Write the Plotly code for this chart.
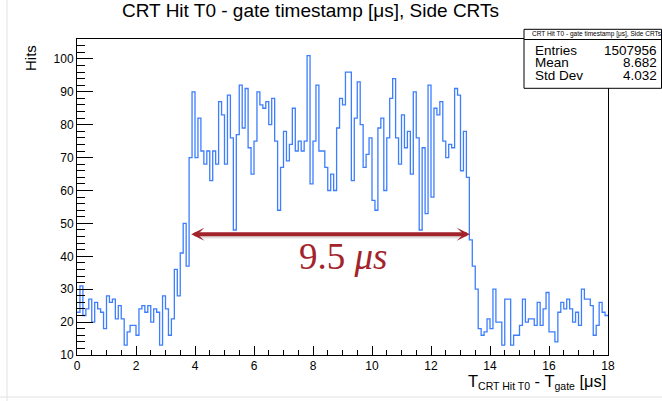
import numpy as np
import plotly.graph_objects as go

# Histogram binning (ROOT TH1: 180 bins of 0.1 us)
X_MIN, X_MAX, N_BINS = 0.0, 18.0, 180

# Bin contents, one entry per 0.1 us bin
hits = [
    23, 31, 22, 24, 27, 20, 26, 24, 23, 18,
    28, 26, 27, 21, 25, 21, 13, 17, 19, 19,
    16, 24, 25, 23, 25, 20, 24, 23, 13, 28,
    24, 16, 21, 36, 28, 41, 50, 37,
    70, 90, 70, 82, 72, 68, 72, 63, 72, 68, 87, 83, 68, 89, 76, 48,
    77, 92, 79, 91, 73, 65, 75, 90, 86, 85, 87, 80, 88, 75, 54,
    67, 78, 69, 74, 85, 72, 75, 72, 75, 101,
    62, 75, 92, 72, 72, 67, 60, 65, 60, 79, 88, 86, 96, 96, 63,
    82, 93, 80, 67, 71, 76, 57, 54, 79, 82, 60, 76, 88, 94,
    76, 68, 83, 73, 78, 65, 90, 76, 48, 73, 53, 92, 58, 85, 83, 87, 75, 70,
    74, 73, 91, 89, 66, 78, 64, 45,
    37, 30, 18, 16, 17, 21, 18, 30, 20,
    20, 13, 27, 27, 13, 16, 16, 19, 27, 20, 21, 21, 19, 26, 19, 24, 29, 17,
    17, 14, 23, 26, 24, 27, 24, 20, 23, 19, 30, 27, 27, 25, 16, 19, 26, 23, 22,
]

Y_MIN = 10
Y_MAX = 1.05 * max(hits)

# Gate-width marker
GATE_WIDTH = 9.5          # us
GATE_START = 3.82         # us
ARROW_Y = 46.7            # hits
LABEL_X, LABEL_Y = 9.0, 40.0

# Stats box contents
TITLE = "CRT Hit T0 - gate timestamp [μs], Side CRTs"
STATS_NAMES = ["Entries", "Mean", "Std Dev"]
STATS_VALUES = ["1507956", "8.682", "4.032"]

# Canvas geometry (pixels)
W, H = 662, 401
ML, MR, MT, MB = 77, 54, 39, 46
PW, PH = W - ML - MR, H - MT - MB


def px(x):
    return (x - ML) / PW


def py(y):
    return (H - MB - y) / PH


FONT = "Liberation Sans, Arial, Helvetica, sans-serif"
RED = "#A3232B"

edges = np.linspace(X_MIN, X_MAX, N_BINS + 1)
step_y = list(hits) + [hits[-1]]

fig = go.Figure()
fig.add_trace(go.Scatter(
    x=edges, y=step_y, mode="lines", line_shape="hv",
    line=dict(color="#3D7EFF", width=1.3), hoverinfo="skip", showlegend=False,
))

# faint shadow under the gate arrow
fig.add_shape(type="line", xref="x", yref="y",
              x0=GATE_START + 0.3, x1=GATE_START + GATE_WIDTH - 0.3,
              y0=ARROW_Y - 0.8, y1=ARROW_Y - 0.8,
              line=dict(color="rgba(0,0,0,0.12)", width=3))

SUB = '<sub><span style="font-size:10.5px">{}</span></sub>'

annotations = [
    # double-headed gate arrow
    dict(x=GATE_START + GATE_WIDTH, y=ARROW_Y, ax=GATE_START, ay=ARROW_Y,
         xref="x", yref="y", axref="x", ayref="y", text="",
         showarrow=True, arrowside="end+start", arrowhead=3, startarrowhead=3,
         arrowsize=0.55, startarrowsize=0.55, arrowwidth=4, arrowcolor=RED,
         standoff=0, startstandoff=0),
    dict(x=LABEL_X, y=LABEL_Y, xref="x", yref="y", showarrow=False,
         text=f"{GATE_WIDTH} <i>μs</i>",
         font=dict(family="Liberation Serif, DejaVu Serif, serif", size=37, color=RED),
         xanchor="center", yanchor="middle"),
    # canvas title
    dict(x=px(310), y=py(11), xref="paper", yref="paper", showarrow=False,
         text="CRT Hit T0 - gate timestamp [μs], Side CRTs",
         font=dict(family=FONT, size=19, color="black"),
         xanchor="center", yanchor="middle"),
    # axis titles
    dict(x=1, y=py(382), xref="paper", yref="paper", showarrow=False,
         text="T" + SUB.format("CRT Hit T0") + " - T" + SUB.format("gate") + " [μs]",
         font=dict(family=FONT, size=16.5, color="black"),
         xanchor="right", yanchor="middle"),
    dict(x=px(31), y=py(43), xref="paper", yref="paper", showarrow=False,
         text="Hits", textangle=-90,
         font=dict(family=FONT, size=15, color="black"),
         xanchor="center", yanchor="top"),
    # stats box title
    dict(x=px(530), y=py(34.5), xref="paper", yref="paper", showarrow=False,
         text=TITLE, font=dict(family=FONT, size=6.5, color="black"),
         xanchor="left", yanchor="middle"),
]

row_y = [51.0, 63.0, 75.0]
for name, val, yy in zip(STATS_NAMES, STATS_VALUES, row_y):
    annotations.append(dict(x=px(532.5), y=py(yy), xref="paper", yref="paper",
                            showarrow=False, text=name,
                            font=dict(family=FONT, size=13.5, color="black"),
                            xanchor="left", yanchor="middle"))
    annotations.append(dict(x=px(659), y=py(yy), xref="paper", yref="paper",
                            showarrow=False, text=val,
                            font=dict(family=FONT, size=13.5, color="black"),
                            xanchor="right", yanchor="middle"))

shapes = [
    # stats box
    dict(type="rect", xref="paper", yref="paper", layer="above",
         x0=px(524), x1=px(661.5), y0=py(88.3), y1=py(29.3),
         line=dict(color="black", width=1), fillcolor="white"),
    dict(type="line", xref="paper", yref="paper", layer="above",
         x0=px(524), x1=px(661.5), y0=py(39.5), y1=py(39.5),
         line=dict(color="black", width=1)),
    # page edges
    dict(type="line", xref="paper", yref="paper", layer="above",
         x0=px(7), x1=px(7), y0=py(0), y1=py(401),
         line=dict(color="#e2e2e2", width=1)),
    dict(type="line", xref="paper", yref="paper", layer="above",
         x0=px(0), x1=px(662), y0=py(397), y1=py(397),
         line=dict(color="#e2e2e2", width=1)),
]
fig.layout.shapes = list(fig.layout.shapes) + shapes

fig.update_layout(
    width=W, height=H,
    margin=dict(l=ML, r=MR, t=MT, b=MB, pad=0),
    paper_bgcolor="white", plot_bgcolor="white",
    font=dict(family=FONT, color="black"),
    annotations=annotations,
    xaxis=dict(range=[X_MIN, X_MAX], tick0=0, dtick=2, ticks="inside",
               ticklen=9, tickwidth=1, tickcolor="black",
               minor=dict(dtick=0.5, tick0=0, ticks="inside", ticklen=5,
                          tickcolor="black", tickwidth=1),
               showgrid=False, zeroline=False, showline=True, linecolor="black",
               linewidth=1, mirror=True, tickfont=dict(size=12, family=FONT)),
    yaxis=dict(range=[Y_MIN, Y_MAX], tick0=10, dtick=10, ticks="inside",
               ticklen=16, tickwidth=1, tickcolor="black",
               minor=dict(dtick=2, tick0=10, ticks="inside", ticklen=8,
                          tickcolor="black", tickwidth=1),
               showgrid=False, zeroline=False, showline=True, linecolor="black",
               linewidth=1, mirror=True, tickfont=dict(size=12, family=FONT)),
)

fig.write_html("out.html")
